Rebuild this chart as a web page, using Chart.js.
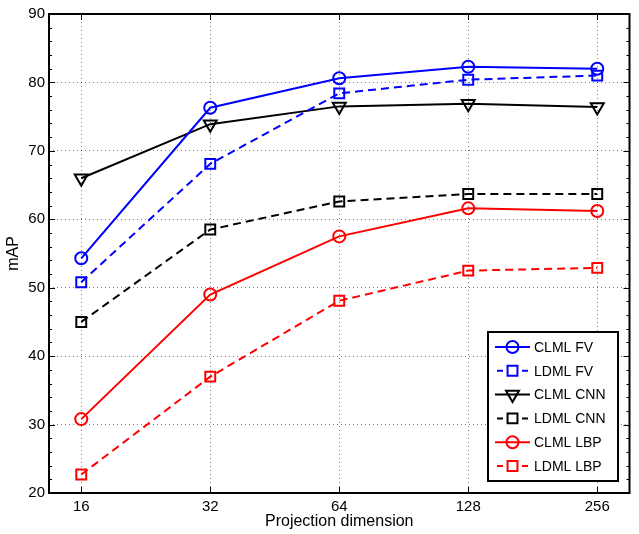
<!DOCTYPE html>
<html>
<head>
<meta charset="utf-8">
<script src="https://cdn.jsdelivr.net/npm/chart.js@4/dist/chart.umd.min.js"></script>
<style>
html,body{margin:0;padding:0;background:#fff;}
#wrap{width:639px;height:534px;}
</style>
</head>
<body>
<div id="wrap"><canvas id="c" width="639" height="534"></canvas></div>
<script>
// ---- data ----
const categories = ['16', '32', '64', '128', '256'];
const clmlFV  = [54.3, 76.3, 80.6, 82.3, 82.0];
const ldmlFV  = [50.8, 68.1, 78.4, 80.4, 81.0];
const clmlCNN = [66.0, 73.9, 76.5, 76.9, 76.4];
const ldmlCNN = [45.0, 58.5, 62.6, 63.7, 63.7];
const clmlLBP = [30.8, 49.0, 57.5, 61.6, 61.2];
const ldmlLBP = [22.7, 37.0, 48.1, 52.5, 52.9];
const seriesNames = ['CLML FV', 'LDML FV', 'CLML CNN', 'LDML CNN', 'CLML LBP', 'LDML LBP'];
const yTicks = [20, 30, 40, 50, 60, 70, 80, 90];

const FONT = "'Liberation Sans', Arial, Helvetica, sans-serif";
Chart.defaults.font.family = FONT;
Chart.defaults.color = '#000';

const toPts = arr => arr.map((v, i) => ({x: i + 1, y: v}));
const DASH = [8, 5];

function ds(label, values, color, dashed, style) {
  const s = {
    label: label,
    data: toPts(values),
    borderColor: color,
    backgroundColor: 'rgba(0,0,0,0)',
    borderWidth: 2,
    borderDash: dashed ? DASH : [],
    pointBorderColor: color,
    pointBackgroundColor: 'rgba(0,0,0,0)',
    pointBorderWidth: 2,
    tension: 0,
    fill: false
  };
  if (style === 'circle') { s.pointStyle = 'circle'; s.pointRadius = 6; }
  if (style === 'rect') { s.pointStyle = 'rect'; s.pointRadius = 7; }
  if (style === 'tri') { s.pointStyle = 'triangle'; s.pointRadius = 7.5; s.pointRotation = 180; }
  s.pointHoverRadius = s.pointRadius;
  return s;
}

const datasets = [
  ds(seriesNames[0], clmlFV, '#0000ff', false, 'circle'),
  ds(seriesNames[1], ldmlFV, '#0000ff', true, 'rect'),
  ds(seriesNames[2], clmlCNN, '#000000', false, 'tri'),
  ds(seriesNames[3], ldmlCNN, '#000000', true, 'rect'),
  ds(seriesNames[4], clmlLBP, '#ff0000', false, 'circle'),
  ds(seriesNames[5], ldmlLBP, '#ff0000', true, 'rect')
];

// Frame + inward ticks (MATLAB style)
const framePlugin = {
  id: 'frame',
  afterDraw(chart) {
    const {ctx, chartArea: a, scales: {x, y}} = chart;
    ctx.save();
    ctx.strokeStyle = '#000';
    ctx.lineWidth = 1;
    ctx.beginPath();
    for (let v = 20; v <= 90; v += 2) {
      const py = Math.round(y.getPixelForValue(v)) + 0.5;
      const len = (v % 10 === 0) ? 6 : 3;
      ctx.moveTo(a.left, py); ctx.lineTo(a.left + len, py);
      ctx.moveTo(a.right, py); ctx.lineTo(a.right - len, py);
    }
    for (let i = 1; i <= categories.length; i++) {
      const px = Math.round(x.getPixelForValue(i)) + 0.5;
      ctx.moveTo(px, a.bottom); ctx.lineTo(px, a.bottom - 6);
      ctx.moveTo(px, a.top); ctx.lineTo(px, a.top + 6);
    }
    ctx.stroke();
    ctx.lineWidth = 2;
    ctx.strokeRect(a.left, a.top, a.right - a.left, a.bottom - a.top);
    ctx.restore();
  }
};

// Legend box in lower right corner
const legendPlugin = {
  id: 'boxLegend',
  afterDraw(chart) {
    const {ctx} = chart;
    const bx = 488, by = 332, bw = 130, bh = 149;
    ctx.save();
    ctx.fillStyle = '#fff';
    ctx.fillRect(bx, by, bw, bh);
    ctx.strokeStyle = '#000';
    ctx.lineWidth = 2;
    ctx.strokeRect(bx, by, bw, bh);
    ctx.font = '14px ' + FONT;
    ctx.textBaseline = 'middle';
    ctx.textAlign = 'left';
    chart.data.datasets.forEach((d, i) => {
      const cy = by + 15 + i * 23.8;
      const x0 = bx + 7, x1 = bx + 42, mx = (x0 + x1) / 2;
      ctx.strokeStyle = d.borderColor;
      ctx.lineWidth = d.borderWidth;
      ctx.beginPath();
      if (d.borderDash.length) {
        ctx.moveTo(x0 + 2, cy); ctx.lineTo(x0 + 8, cy);
        ctx.moveTo(x1 - 8, cy); ctx.lineTo(x1 - 2, cy);
      } else {
        ctx.moveTo(x0, cy); ctx.lineTo(x1, cy);
      }
      ctx.stroke();
      ctx.lineWidth = d.pointBorderWidth;
      ctx.strokeStyle = d.pointBorderColor;
      ctx.fillStyle = 'rgba(0,0,0,0)';
      Chart.helpers.drawPoint(ctx, {
        pointStyle: d.pointStyle, radius: d.pointRadius, rotation: d.pointRotation || 0,
        borderWidth: d.pointBorderWidth
      }, mx, cy);
      ctx.fillStyle = '#000';
      ctx.fillText(d.label, bx + 46, cy + 1);
    });
    ctx.restore();
  }
};

new Chart(document.getElementById('c'), {
  type: 'line',
  data: {datasets},
  options: {
    responsive: false,
    animation: false,
    devicePixelRatio: 1,
    layout: {padding: {top: 14, right: 5, left: 0, bottom: 0}},
    plugins: {legend: {display: false}, tooltip: {enabled: false}},
    scales: {
      x: {
        type: 'linear',
        min: 0.75, max: 5.25,
        afterBuildTicks: s => { s.ticks = categories.map((c, i) => ({value: i + 1})); },
        afterFit: s => { s.height = 41; },
        ticks: {
          callback: v => categories[v - 1] || '',
          font: {size: 15}, color: '#000', padding: 5, maxRotation: 0, autoSkip: false
        },
        grid: {color: 'rgba(0,0,0,0.5)', lineWidth: 1, drawTicks: false},
        border: {display: false, dash: [1, 3]},
        title: {display: true, text: 'Projection dimension', font: {size: 16}, color: '#000', padding: {top: 0, bottom: 3}}
      },
      y: {
        min: 20, max: 90,
        afterBuildTicks: s => { s.ticks = yTicks.map(v => ({value: v})); },
        afterFit: s => { s.width = 49; },
        ticks: {font: {size: 15}, color: '#000', padding: 4},
        grid: {color: 'rgba(0,0,0,0.5)', lineWidth: 1, drawTicks: false},
        border: {display: false, dash: [1, 3]},
        title: {display: true, text: 'mAP', font: {size: 16}, color: '#000', padding: {top: 4, bottom: 0}}
      }
    }
  },
  plugins: [framePlugin, legendPlugin]
});
</script>
</body>
</html>
